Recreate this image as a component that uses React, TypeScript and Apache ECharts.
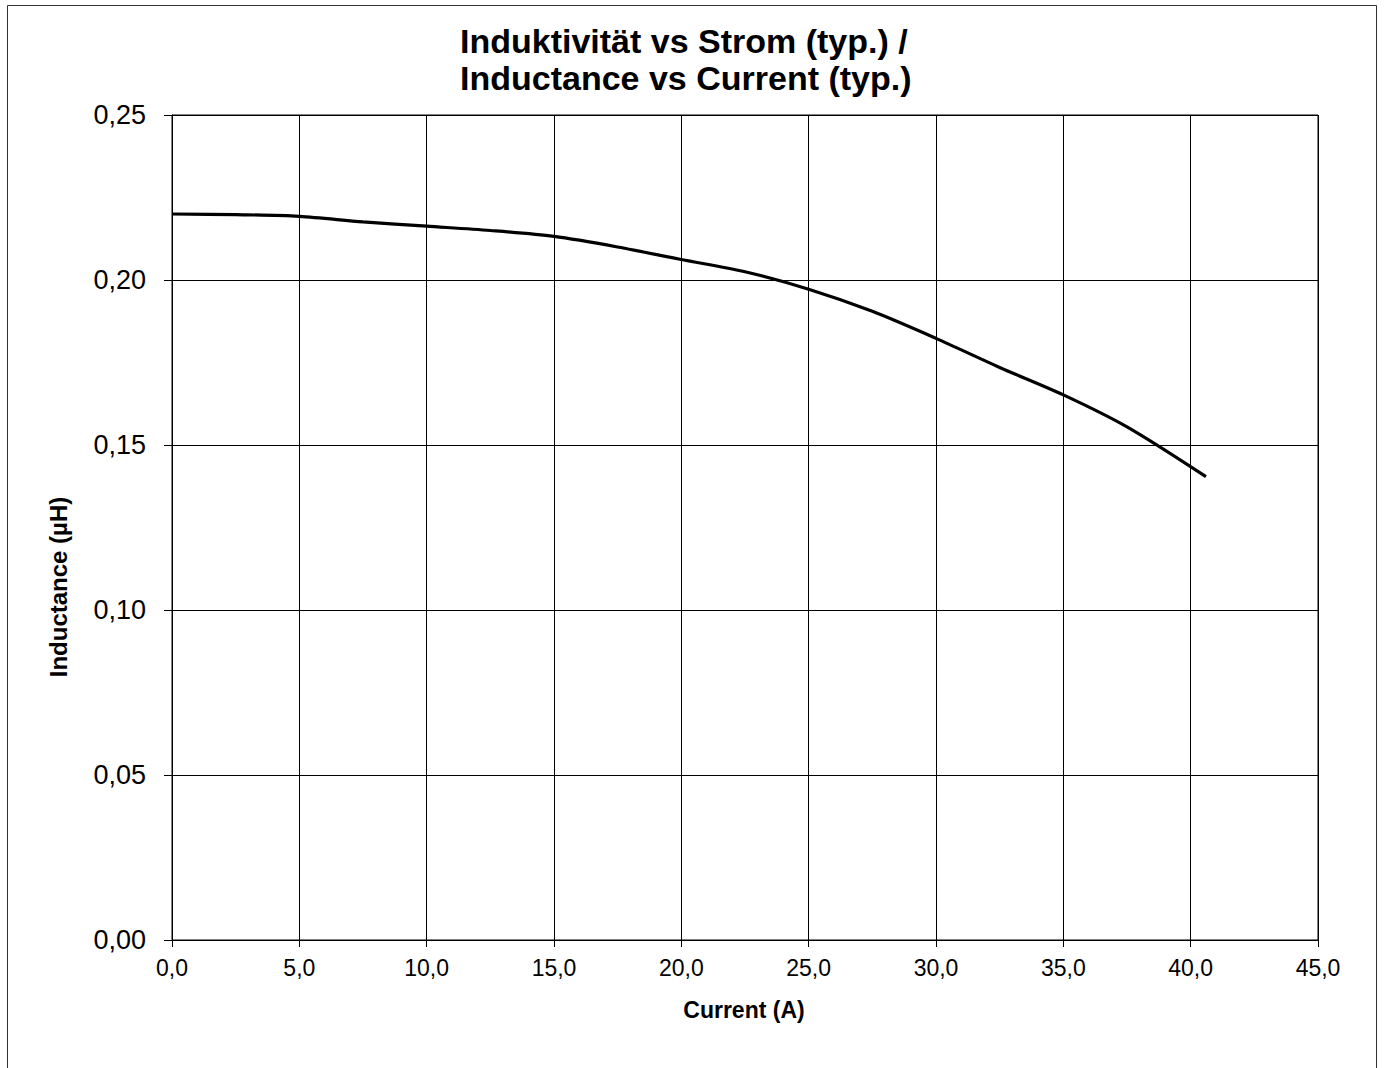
import React, { useEffect, useRef } from "react";
import * as echarts from "echarts";

const currentA = [0, 2.5, 5, 7.5, 10, 12.5, 15, 17.5, 20, 22.5, 25, 27.5, 30, 32.5, 35, 37.5, 40.6];
const inductanceUH = [0.22, 0.2198, 0.2193, 0.2176, 0.2163, 0.215, 0.2132, 0.21, 0.2062, 0.2025, 0.1972, 0.1905, 0.1823, 0.1735, 0.1652, 0.1555, 0.1404];

const titleText = "Induktivität vs Strom (typ.) /\nInductance vs Current (typ.)";
const xAxisName = "Current (A)";
const yAxisName = "Inductance (µH)";

export default function App() {
  const ref = useRef<HTMLDivElement>(null);
  useEffect(() => {
    document.body.style.margin = "0";
    if (!ref.current) return;
    const chart = echarts.init(ref.current, null, { renderer: "svg" });
    const font = "Arial, 'Liberation Sans', sans-serif";
    chart.setOption({
      animation: false,
      backgroundColor: "#ffffff",
      title: {
        text: titleText,
        left: 455,
        top: 17,
        textStyle: { fontFamily: font, fontWeight: "bold", fontSize: 34, lineHeight: 37, color: "#000" },
      },
      grid: { left: 172, top: 115, width: 1146, height: 825, show: true, borderColor: "#000", borderWidth: 1, containLabel: false },
      xAxis: {
        type: "value",
        min: 0,
        max: 45,
        interval: 5,
        axisLine: { show: true, lineStyle: { color: "#000", width: 1 } },
        axisTick: { show: true, length: 7, lineStyle: { color: "#000" } },
        axisLabel: { margin: 16, fontSize: 23, fontFamily: font, color: "#000", formatter: (v: number) => v.toFixed(1).replace(".", ",") },
        splitLine: { show: true, lineStyle: { color: "#000", width: 1 } },
      },
      yAxis: {
        type: "value",
        min: 0,
        max: 0.25,
        interval: 0.05,
        axisLine: { show: true, lineStyle: { color: "#000", width: 1 } },
        axisTick: { show: true, length: 8, lineStyle: { color: "#000" } },
        axisLabel: { margin: 26, fontSize: 27, fontFamily: font, color: "#000", formatter: (v: number) => v.toFixed(2).replace(".", ",") },
        splitLine: { show: true, lineStyle: { color: "#000", width: 1 } },
      },
      graphic: [
        {
          type: "rect",
          shape: { x: 7.5, y: 5.5, width: 1369, height: 1100 },
          style: { fill: "none", stroke: "#333", lineWidth: 1 },
          silent: true,
          z: -1,
        },
        {
          type: "text",
          x: 744,
          y: 1010,
          style: { text: xAxisName, font: `bold 23px ${font}`, fill: "#000", align: "center", verticalAlign: "middle" },
        },
        {
          type: "text",
          x: 58,
          y: 587,
          rotation: Math.PI / 2,
          style: { text: yAxisName, font: `bold 24px ${font}`, fill: "#000", align: "center", verticalAlign: "middle" },
        },
      ],
      series: [
        {
          type: "line",
          data: currentA.map((x, i) => [x, inductanceUH[i]]),
          smooth: 0.3,
          showSymbol: false,
          lineStyle: { color: "#000", width: 3.2 },
        },
      ],
    });
    return () => chart.dispose();
  }, []);
  return <div ref={ref} style={{ width: 1385, height: 1068 }} />;
}
